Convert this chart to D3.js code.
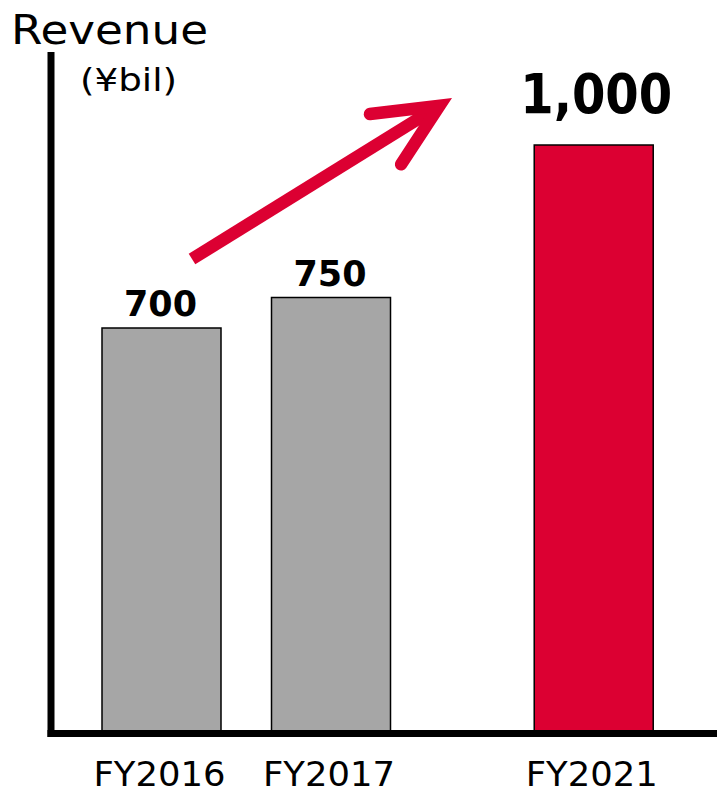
<!DOCTYPE html>
<html>
<head>
<meta charset="utf-8">
<script src="https://cdn.jsdelivr.net/npm/d3@7"></script>
<style>
  html, body { margin: 0; padding: 0; background: #fff; }
  svg { display: block; }
  text { font-family: "DejaVu Sans", Verdana, sans-serif; fill: #000; }
</style>
</head>
<body>
<svg id="chart" width="717" height="795"></svg>
<script>
// Revenue by fiscal year (billion yen)
const categories = ["FY2016", "FY2017", "FY2021"];
const revenue = [700, 750, 1000];
const valueLabels = ["700", "750", "1,000"];
const highlightCategory = "FY2021";
const yearsSkippedBefore = "FY2021";   // a wider gap marks the skipped years

const W = 717, H = 795;
const axisX = 51, axisY = 733.5, axisTop = 52;
const barWidth = 119;
const breakGap = 1.1;                  // extra half-steps before the skipped years
const grey = "#a6a6a6", red = "#dc0032";

const svg = d3.select("#chart");

// Each category takes two half-steps; an extra gap goes before the break
const breakIndex = categories.indexOf(yearsSkippedBefore);
const slot = categories.map((c, i) => i * 2 + (i >= breakIndex ? breakGap : 0));
const x = d3.scaleLinear().domain([0, 2]).range([161.5, 331]);
const y = d3.scaleLinear().domain([0, 1000]).range([755, 145]);

const data = categories.map((c, i) => ({ cat: c, value: revenue[i], label: valueLabels[i], pos: x(slot[i]) }));

// Bars
svg.append("g").selectAll("rect")
  .data(data)
  .join("rect")
  .attr("x", d => d.pos - barWidth / 2)
  .attr("y", d => y(d.value))
  .attr("width", barWidth)
  .attr("height", d => axisY - y(d.value))
  .attr("fill", d => d.cat === highlightCategory ? red : grey)
  .attr("stroke", "#000")
  .attr("stroke-width", 1.5);

// Axis lines (no ticks)
svg.append("line")
  .attr("x1", axisX).attr("x2", axisX)
  .attr("y1", axisTop).attr("y2", axisY + 3.5)
  .attr("stroke", "#000").attr("stroke-width", 7);
svg.append("line")
  .attr("x1", axisX - 3.5).attr("x2", W)
  .attr("y1", axisY).attr("y2", axisY)
  .attr("stroke", "#000").attr("stroke-width", 7);

// Category labels
svg.append("g").selectAll("text")
  .data(data)
  .join("text")
  .attr("x", d => d.pos - 2)
  .attr("y", 786)
  .attr("text-anchor", "middle")
  .attr("font-size", 34)
  .attr("textLength", 132)
  .attr("lengthAdjust", "spacingAndGlyphs")
  .text(d => d.cat);

// Value labels
svg.append("g").selectAll("text")
  .data(data)
  .join("text")
  .attr("x", d => d.pos + (d.cat === highlightCategory ? 2.5 : -1))
  .attr("y", d => y(d.value) - (d.cat === highlightCategory ? 32 : 12))
  .attr("text-anchor", "middle")
  .attr("font-weight", "bold")
  .attr("font-size", d => d.cat === highlightCategory ? 55 : 35)
  .attr("textLength", d => d.cat === highlightCategory ? 152 : 73)
  .attr("lengthAdjust", "spacingAndGlyphs")
  .text(d => d.label);

// Axis title and unit
svg.append("text")
  .attr("x", 11).attr("y", 44)
  .attr("font-size", 40)
  .attr("textLength", 197).attr("lengthAdjust", "spacingAndGlyphs")
  .text("Revenue");
svg.append("text")
  .attr("x", 80).attr("y", 91)
  .attr("font-size", 32)
  .attr("textLength", 97).attr("lengthAdjust", "spacingAndGlyphs")
  .text("(¥bil)");

// Growth arrow
const tail = [192, 259], tip = [452, 98];
const len = Math.hypot(tip[0] - tail[0], tip[1] - tail[1]);
const dir = [(tip[0] - tail[0]) / len, (tip[1] - tail[1]) / len];
const strokeW = 12.5, half = 25 * Math.PI / 180, wingLen = 70;
const inset = (strokeW / 2) / Math.sin(half);
const vtx = [tip[0] - dir[0] * inset, tip[1] - dir[1] * inset];
const back = Math.atan2(-dir[1], -dir[0]);
const wing = a => [vtx[0] + wingLen * Math.cos(back + a), vtx[1] + wingLen * Math.sin(back + a)];

const arrow = svg.append("g").attr("stroke", red).attr("fill", "none").attr("stroke-width", strokeW);
arrow.append("path")
  .attr("d", d3.line()([tail, vtx]))
  .attr("stroke-linecap", "butt");
arrow.append("path")
  .attr("d", d3.line()([wing(half), vtx, wing(-half)]))
  .attr("stroke-linecap", "round")
  .attr("stroke-linejoin", "miter")
  .attr("stroke-miterlimit", 10);
</script>
</body>
</html>
